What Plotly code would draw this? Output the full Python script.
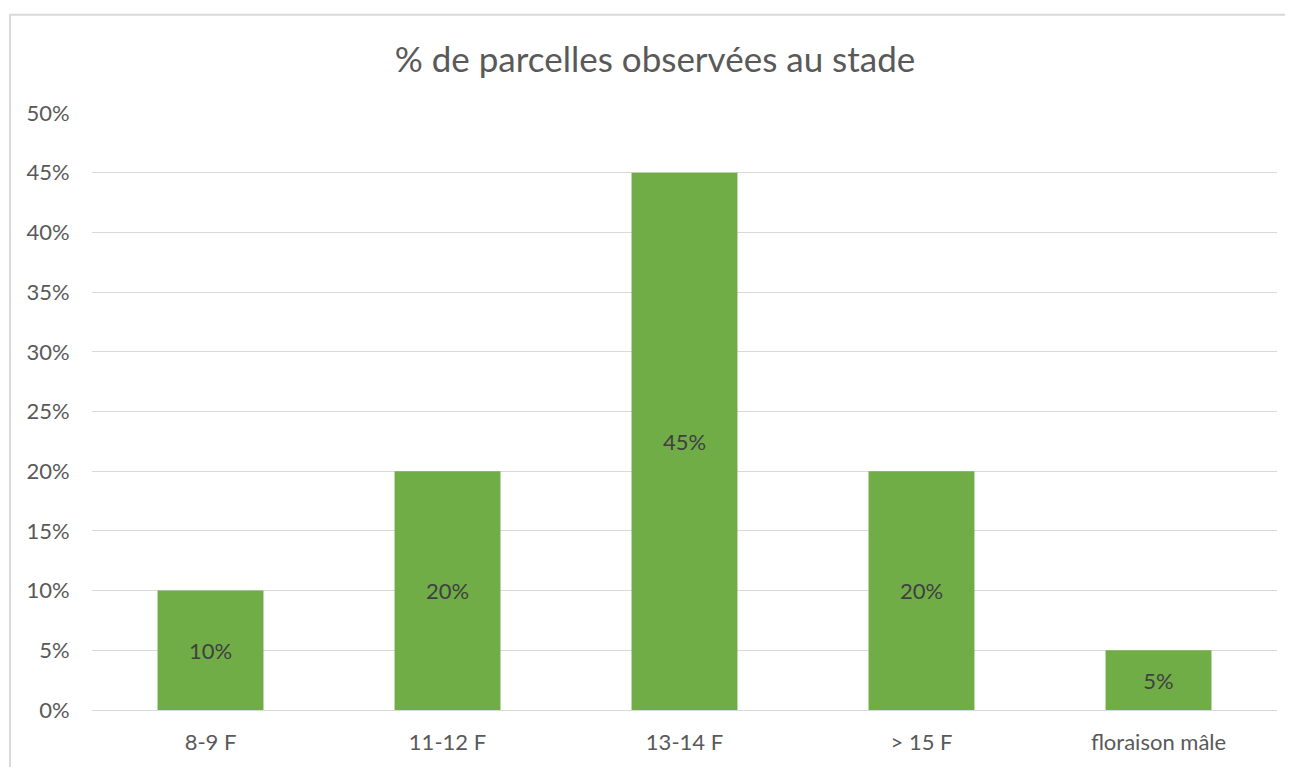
import plotly.graph_objects as go

categories = ["8-9 F", "11-12 F", "13-14 F", "> 15 F", "floraison mâle"]
values = [0.10, 0.20, 0.45, 0.20, 0.05]
labels = ["10%", "20%", "45%", "20%", "5%"]
tick_vals = [0, 0.05, 0.10, 0.15, 0.20, 0.25, 0.30, 0.35, 0.40, 0.45, 0.50]

OFF = 8  # page body margin
W, H = 1293 - OFF, 767 - OFF
# plot area in reference pixels: x 92..1277, y 113..715
L, R, T, B = 92 - OFF, 1293 - 1277, 113 - OFF, 767 - 715
pw, ph = W - L - R, H - T - B

def px_x(x):
    return (x - OFF - L) / pw

def px_y(y):
    return (H - B - (y - OFF)) / ph

fig = go.Figure(go.Bar(
    x=categories, y=values, text=labels,
    textposition="inside", insidetextanchor="middle",
    textfont=dict(family="Lato", size=22, color="#404040"),
    marker=dict(color="#70AD47", line=dict(width=0)),
    textangle=0,
))

fig.update_layout(
    width=W, height=H,
    margin=dict(l=L, r=R, t=T, b=B),
    paper_bgcolor="white", plot_bgcolor="white",
    bargap=0.553,
    showlegend=False,
    uniformtext=dict(minsize=22, mode="show"),
    title=dict(text="% de parcelles observées au stade", x=(655 - OFF) / W, xref="container",
               y=1 - (60 - OFF) / H, yref="container", yanchor="middle", xanchor="center",
               font=dict(family="Lato", size=35, color="#595959")),
    font=dict(family="Lato", size=22, color="#595959"),
    shapes=[dict(type="rect", xref="paper", yref="paper",
                 x0=px_x(10), x1=px_x(1310), y0=px_y(790), y1=px_y(14),
                 line=dict(color="#D9D9D9", width=2), layer="below")],
)
fig.update_yaxes(range=[0, 0.5], tickvals=tick_vals, tickformat=".0%",
                 showgrid=True, gridcolor="#D9D9D9", gridwidth=1,
                 zeroline=True, zerolinecolor="#D9D9D9", zerolinewidth=1,
                 showline=False, ticks="outside", ticklen=17, tickcolor="rgba(0,0,0,0)",
                 tickfont=dict(family="Lato", size=22, color="#595959"))
fig.update_xaxes(showgrid=False, showline=True, linecolor="#D9D9D9", linewidth=1,
                 ticks="outside", ticklen=13, tickcolor="rgba(0,0,0,0)",
                 tickfont=dict(family="Lato", size=22, color="#595959"))

fig.write_html("out.html")
